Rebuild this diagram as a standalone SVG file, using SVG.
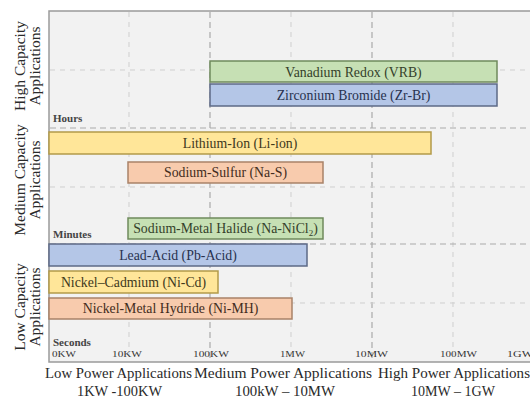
<svg xmlns="http://www.w3.org/2000/svg" width="530" height="401" viewBox="0 0 530 401">
<style>
text{font-family:"Liberation Serif","Times New Roman",Times,serif;}
.bar{stroke-width:1.5;}
.g{fill:#c6e0b4;stroke:#6f8a5c;}
.b{fill:#b4c6e7;stroke:#5d6a86;}
.y{fill:#ffe699;stroke:#b39a4a;}
.o{fill:#f8cbad;stroke:#a98268;}
.lbl{font-size:13.8px;text-anchor:middle;}
.tg{fill:#34412a;}
.tb{fill:#28324f;}
.ty{fill:#40381c;}
.to{fill:#422b20;}
.maj{stroke:#aaaaaa;stroke-width:1.2;stroke-dasharray:6 4;fill:none;}
.min{stroke:#cfcfcf;stroke-width:1;stroke-dasharray:5 5;fill:none;}
.tick{font-size:9px;fill:#333;}
.unit{font-size:11px;font-weight:bold;fill:#444;}
.side{font-size:15.5px;fill:#2a2a2a;text-anchor:middle;}
.bot{font-size:14.5px;fill:#2a2a2a;text-anchor:middle;}
</style>
<rect x="0" y="0" width="530" height="401" fill="#ffffff"/>
<g id="plot">
<rect x="49" y="11" width="500" height="351" fill="#f2f2f2" stroke="#9a9a9a" stroke-width="1.5"/>
</g>
<g id="grid">
<line class="min" x1="129" y1="12" x2="129" y2="361"/>
<line class="maj" x1="210" y1="12" x2="210" y2="361"/>
<line class="min" x1="291" y1="12" x2="291" y2="361"/>
<line class="maj" x1="372" y1="12" x2="372" y2="361"/>
<line class="min" x1="453" y1="12" x2="453" y2="361"/>
<line class="min" x1="50" y1="70" x2="530" y2="70"/>
<line class="maj" x1="50" y1="128" x2="530" y2="128"/>
<line class="min" x1="50" y1="187" x2="530" y2="187"/>
<line class="maj" x1="50" y1="244" x2="530" y2="244"/>
<line class="min" x1="50" y1="303" x2="530" y2="303"/>
</g>
<g id="connectors"></g>
<g id="vrb">
<rect class="bar g" x="210" y="61" width="287" height="21"/>
<text class="lbl tg" x="353.5" y="76.5">Vanadium Redox (VRB)</text>
</g>
<g id="zrbr">
<rect class="bar b" x="210" y="84" width="287" height="22"/>
<text class="lbl tb" x="353.5" y="99.5">Zirconium Bromide (Zr-Br)</text>
</g>
<g id="liion">
<rect class="bar y" x="49" y="132" width="382" height="22"/>
<text class="lbl ty" x="240" y="147.5">Lithium-Ion (Li-ion)</text>
</g>
<g id="nas">
<rect class="bar o" x="128" y="162" width="195" height="21"/>
<text class="lbl to" x="225.5" y="177">Sodium-Sulfur (Na-S)</text>
</g>
<g id="nanicl">
<rect class="bar g" x="128" y="218" width="195" height="21"/>
<text class="lbl tg" x="225.5" y="233">Sodium-Metal Halide (Na-NiCl<tspan font-size="9" dy="3">2</tspan><tspan dy="-3">)</tspan></text>
</g>
<g id="lead">
<rect class="bar b" x="49" y="244" width="258" height="22"/>
<text class="lbl tb" x="178" y="259.5">Lead-Acid (Pb-Acid)</text>
</g>
<g id="nicd">
<rect class="bar y" x="49" y="271" width="169" height="22"/>
<text class="lbl ty" x="133.5" y="286.5">Nickel–Cadmium (Ni-Cd)</text>
</g>
<g id="nimh">
<rect class="bar o" x="49" y="298" width="243" height="21"/>
<text class="lbl to" x="170.5" y="313">Nickel-Metal Hydride (Ni-MH)</text>
</g>
<g id="units">
<text class="unit" x="53" y="122">Hours</text>
<text class="unit" x="53" y="238">Minutes</text>
<text class="unit" x="53" y="346">Seconds</text>
</g>
<g id="ticks">
<text class="tick" x="52" y="357" textLength="24" lengthAdjust="spacingAndGlyphs">0KW</text>
<text class="tick" x="112" y="357" textLength="30" lengthAdjust="spacingAndGlyphs">10KW</text>
<text class="tick" x="193" y="357" textLength="36" lengthAdjust="spacingAndGlyphs">100KW</text>
<text class="tick" x="280" y="357" textLength="25" lengthAdjust="spacingAndGlyphs">1MW</text>
<text class="tick" x="355" y="357" textLength="33" lengthAdjust="spacingAndGlyphs">10MW</text>
<text class="tick" x="440" y="357" textLength="37" lengthAdjust="spacingAndGlyphs">100MW</text>
<text class="tick" x="507" y="357" textLength="26" lengthAdjust="spacingAndGlyphs">1GW</text>
</g>
<g id="side-labels">
<g transform="translate(0,66) rotate(-90)">
<text class="side" x="0" y="25">High Capacity</text>
<text class="side" x="0" y="40">Applications</text>
</g>
<g transform="translate(0,180) rotate(-90)">
<text class="side" x="0" y="25">Medium Capacity</text>
<text class="side" x="0" y="40">Applications</text>
</g>
<g transform="translate(0,307) rotate(-90)">
<text class="side" x="0" y="25">Low Capacity</text>
<text class="side" x="0" y="40">Applications</text>
</g>
</g>
<g id="bottom-labels">
<text class="bot" x="118.5" y="378" textLength="147" lengthAdjust="spacingAndGlyphs">Low Power Applications</text>
<text class="bot" x="119.5" y="396" textLength="85" lengthAdjust="spacingAndGlyphs">1KW -100KW</text>
<text class="bot" x="283" y="378" textLength="178" lengthAdjust="spacingAndGlyphs">Medium Power Applications</text>
<text class="bot" x="285" y="396" textLength="100" lengthAdjust="spacingAndGlyphs">100kW – 10MW</text>
<text class="bot" x="454" y="378" textLength="152" lengthAdjust="spacingAndGlyphs">High Power Applications</text>
<text class="bot" x="453" y="396" textLength="84" lengthAdjust="spacingAndGlyphs">10MW – 1GW</text>
</g>
</svg>
